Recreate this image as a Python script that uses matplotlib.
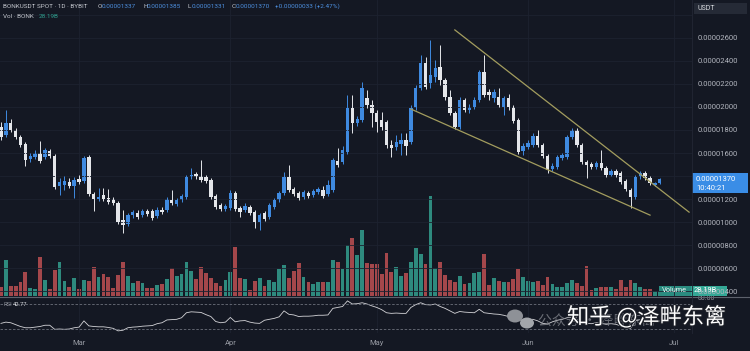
import matplotlib
matplotlib.use('Agg')
import matplotlib.pyplot as plt
import matplotlib.dates as mdates
import matplotlib.patheffects as pe
from matplotlib.patches import Rectangle, Ellipse
from matplotlib.lines import Line2D
import numpy as np
import pandas as pd

# daily BONKUSDT candles, prices in units of 1e-6 USDT
first_day = '2025-02-13'
opens = [18.26, 17.57, 18.61, 18.00, 17.39, 16.78, 15.48, 15.65, 16.00, 15.65,
         16.17, 15.74, 13.13, 13.22, 13.48, 13.13, 13.74, 13.57, 15.65, 12.43,
         12.00, 12.35, 12.09, 12.00, 11.65, 10.17, 9.83, 10.61, 10.78, 10.61,
         10.96, 10.96, 10.52, 11.04, 11.04, 11.91, 11.57, 11.91, 12.17, 13.91,
         14.17, 14.00, 13.91, 13.65, 12.26, 11.48, 11.13, 11.22, 12.52, 11.22,
         11.04, 11.30, 10.87, 10.00, 10.78, 10.43, 11.30, 11.91, 12.52, 13.91,
         12.87, 12.52, 12.17, 12.52, 12.35, 12.61, 12.78, 12.43, 12.78, 15.30,
         15.22, 16.09, 19.91, 18.61, 18.87, 20.78, 20.17, 19.48, 18.87, 18.70,
         16.70, 16.52, 16.78, 17.13, 16.96, 19.91, 21.65, 23.83, 22.09, 22.61,
         23.48, 22.35, 20.87, 19.48, 18.26, 20.61, 19.74, 20.00, 20.61, 23.04,
         21.30, 20.78, 20.87, 20.00, 20.78, 20.00, 18.87, 16.17, 16.52, 16.70,
         17.48, 16.70, 15.74, 14.61, 14.78, 15.57, 15.65, 17.39, 18.00, 16.70,
         15.22, 15.04, 14.78, 15.13, 14.70, 14.09, 14.43, 14.26, 13.57, 12.78,
         12.17, 13.91, 14.26, 13.83, 13.20, 13.37]
highs = [18.70, 19.74, 18.96, 18.17, 17.57, 16.96, 16.00, 16.26, 17.04, 16.43,
         16.35, 15.91, 13.83, 14.00, 13.83, 13.91, 14.09, 15.74, 15.83, 12.61,
         12.96, 12.96, 12.87, 12.17, 11.83, 11.04, 10.78, 11.04, 11.04, 11.13,
         11.13, 11.13, 11.30, 11.30, 12.17, 12.78, 12.09, 12.43, 14.09, 14.70,
         14.35, 15.39, 14.09, 13.83, 12.43, 11.65, 11.57, 12.78, 12.70, 11.39,
         11.65, 11.48, 11.04, 10.78, 10.96, 11.65, 12.09, 12.70, 14.35, 14.96,
         13.04, 12.70, 12.78, 12.70, 12.87, 13.04, 13.13, 13.65, 15.57, 16.43,
         16.61, 21.04, 21.04, 19.22, 22.17, 21.48, 20.61, 19.74, 19.57, 18.87,
         17.13, 17.57, 17.74, 17.74, 20.17, 21.91, 24.52, 24.35, 25.83, 24.09,
         25.39, 22.52, 21.48, 19.65, 20.87, 20.78, 20.26, 20.87, 23.22, 24.52,
         21.57, 21.57, 21.65, 20.96, 21.13, 20.17, 19.04, 16.87, 17.13, 17.74,
         18.00, 16.87, 15.91, 15.13, 15.83, 16.00, 17.57, 18.17, 18.17, 16.87,
         15.39, 15.22, 15.30, 16.26, 14.87, 14.61, 14.61, 14.43, 13.74, 12.96,
         14.09, 14.43, 14.43, 14.00, 13.50, 13.85]
lows = [17.13, 17.39, 17.83, 17.22, 16.52, 14.87, 15.22, 15.48, 15.13, 15.48,
        15.57, 12.87, 12.35, 12.78, 12.96, 12.09, 13.30, 13.39, 12.26, 10.96,
        11.83, 11.83, 11.57, 11.48, 9.83, 9.04, 9.65, 10.35, 10.26, 10.43,
        10.52, 10.17, 10.35, 10.70, 10.87, 11.48, 11.39, 11.74, 12.00, 13.74,
        13.74, 13.48, 13.39, 12.00, 11.13, 10.96, 10.96, 11.04, 10.96, 10.43,
        10.87, 10.61, 9.48, 9.30, 10.09, 10.26, 11.13, 11.74, 12.35, 12.61,
        12.26, 11.91, 12.00, 12.09, 12.17, 12.43, 12.09, 12.26, 12.61, 14.78,
        15.04, 15.91, 17.74, 18.35, 18.70, 19.91, 18.26, 17.83, 18.00, 16.43,
        15.65, 16.26, 15.83, 15.83, 16.78, 19.74, 21.48, 21.57, 21.65, 22.17,
        21.91, 20.61, 19.30, 18.09, 18.09, 19.57, 19.48, 19.83, 20.43, 20.87,
        20.61, 20.43, 20.00, 19.30, 19.74, 18.61, 15.91, 15.83, 16.35, 16.52,
        16.52, 15.57, 14.26, 14.43, 14.61, 15.39, 15.48, 17.22, 16.52, 15.04,
        13.83, 14.61, 14.61, 14.52, 13.91, 14.00, 13.91, 13.30, 12.70, 11.22,
        12.00, 13.74, 13.65, 13.22, 13.10, 13.31]
closes = [17.39, 18.61, 18.00, 17.39, 16.70, 15.39, 15.74, 16.00, 15.30, 16.26,
          15.74, 13.04, 13.48, 13.57, 13.13, 13.65, 13.48, 15.57, 12.43, 12.00,
          12.17, 12.00, 11.74, 11.65, 10.00, 9.74, 10.61, 10.87, 10.43, 10.96,
          10.70, 10.35, 11.04, 10.87, 12.00, 11.65, 11.91, 12.26, 13.91, 14.09,
          13.91, 13.65, 13.57, 12.17, 11.30, 11.13, 11.39, 12.52, 11.13, 10.87,
          11.39, 10.78, 10.00, 10.61, 10.26, 11.48, 11.91, 12.52, 13.91, 12.78,
          12.43, 12.09, 12.61, 12.26, 12.70, 12.87, 12.26, 13.22, 15.39, 14.96,
          16.26, 19.91, 18.61, 18.96, 21.65, 20.17, 19.48, 18.70, 18.26, 16.70,
          16.43, 16.96, 17.13, 16.61, 19.91, 21.65, 23.83, 21.74, 22.78, 23.39,
          22.35, 20.87, 19.48, 18.26, 20.61, 19.74, 20.00, 20.61, 23.04, 21.04,
          21.04, 21.30, 20.17, 20.78, 20.00, 18.78, 16.09, 16.61, 16.87, 17.48,
          16.70, 15.74, 14.52, 14.87, 15.65, 15.83, 17.39, 18.00, 16.70, 15.22,
          14.96, 14.78, 15.13, 14.70, 14.09, 14.43, 14.09, 13.48, 12.87, 12.17,
          13.91, 14.26, 13.83, 13.39, 13.37, 13.70]
# volume in billions of BONK
volumes = [50, 198, 55, 55, 77, 132, 44, 39, 215, 88,
           39, 143, 187, 83, 50, 99, 39, 88, 83, 160,
           105, 121, 105, 44, 116, 187, 110, 72, 83, 72,
           44, 44, 61, 66, 94, 154, 110, 121, 187, 138,
           94, 160, 127, 99, 72, 55, 88, 132, 270, 99,
           94, 33, 83, 99, 55, 88, 77, 149, 171, 99,
           138, 182, 105, 77, 66, 77, 77, 77, 198, 187,
           149, 281, 319, 226, 363, 182, 176, 176, 121, 237,
           132, 160, 110, 127, 187, 264, 231, 176, 550, 154,
           187, 116, 88, 77, 110, 66, 72, 127, 132, 231,
           61, 99, 83, 77, 77, 94, 149, 105, 83, 77,
           83, 61, 105, 66, 50, 50, 72, 88, 72, 55,
           165, 33, 44, 50, 50, 50, 39, 88, 50, 88,
           72, 50, 39, 39, 28, 28.19]
rsi = [39, 41, 40, 37, 34, 32, 32, 33, 34, 36,
       36, 29.5, 30, 29.5, 30, 32, 33, 43, 35, 34,
       33.5, 33.5, 32.5, 31, 27, 28, 32, 33, 33.5, 34.5,
       35, 35.5, 38.5, 40, 44.5, 45, 45.5, 48, 56, 57.5,
       57, 56.5, 53, 50, 42, 40, 41, 48.5, 41.5, 43,
       43.5, 41, 39.5, 39, 44, 45.5, 47, 49.5, 59, 53.5,
       52.5, 50, 50.5, 50.5, 51, 52, 52, 52.5, 63, 64.5,
       66, 75, 70, 70.5, 72, 70, 67, 64.5, 61, 56,
       55, 55.5, 55, 55, 64.5, 69, 72, 69, 68.5, 70,
       66, 63, 59, 55, 58, 57, 56.5, 56, 61.5, 56,
       55, 54, 53.5, 52, 50, 48, 44, 44.5, 45, 45.5,
       43, 39, 38, 41.5, 44, 45.5, 48, 49, 45, 41,
       39, 38.5, 40, 39, 37.5, 38.5, 37.5, 35, 33, 31,
       43, 45, 43.5, 41.5, 42, 42.77]

price_ticks = [4, 6, 8, 10, 12, 14, 16, 18, 20, 22, 24, 26, 28]
hidden_ticks = [14, 28]   # covered by the price tag / the USDT box
month_ticks = ['2025-03-01', '2025-04-01', '2025-05-01', '2025-06-01', '2025-07-01']
month_labels = ['Mar', 'Apr', 'May', 'Jun', 'Jul']
upper_trend = (['2025-05-17', '2025-07-04'], [26.70, 10.86])
lower_trend = (['2025-05-08', '2025-06-26'], [19.82, 10.60])

bg = '#141823'
grid_c = '#1d2230'
txt_c = '#b2b5be'
up_c = '#3f8ae0'
dn_c = '#e4e6ea'
W, H = 750, 351


def frame(x0, y0, x1, y1):
    return [x0 / W, 1 - y1 / H, (x1 - x0) / W, (y1 - y0) / H]


dates = pd.date_range(first_day, periods=len(closes), freq='D')
x = mdates.date2num(dates)
o = np.array(opens)
h = np.array(highs)
l = np.array(lows)
c = np.array(closes)
up = c >= o
body_col = np.where(up, up_c, dn_c)
vol_col = np.where(up, '#2e8a7e', '#a4474b')
mx = mdates.date2num(pd.to_datetime(month_ticks))

fig = plt.figure(figsize=(7.5, 3.51), dpi=100, facecolor=bg)
ax = fig.add_axes(frame(0, 0, 692, 296))
ax_rsi = fig.add_axes(frame(0, 297, 692, 333), sharex=ax)

# volume underneath
axv = ax.twinx()
axv.set_zorder(1)
ax.set_zorder(2)
ax.patch.set_visible(False)
axv.patch.set_facecolor(bg)
axv.bar(x, volumes, width=0.78, color=vol_col, linewidth=0)
axv.set_ylim(0, 1628)
axv.set_yticks([])
for s in axv.spines.values():
    s.set_visible(False)

ax.vlines(x, l, h, colors=body_col, linewidth=0.7)
ax.bar(x, np.maximum(np.abs(c - o), 0.06), bottom=np.minimum(o, c), width=0.7,
       color=body_col, linewidth=0)

for td, tp in (upper_trend, lower_trend):
    ax.plot(mdates.date2num(pd.to_datetime(td)), tp, color='#a39d5e', lw=0.9)

x0 = mdates.date2num(pd.Timestamp(first_day))
ax.set_xlim(x0 - 0.2, x0 + 141.6)
ax.set_ylim(3.57, 29.30)
ax.set_xticks(mx)
ax.set_yticks(price_ticks)
ax.yaxis.tick_right()
ax.set_yticklabels(['' if t in hidden_ticks else f'{t / 1e6:.8f}' for t in price_ticks])
ax.tick_params(axis='y', length=0, pad=4, labelsize=5.5, labelcolor=txt_c)
ax.tick_params(axis='x', length=0, labelbottom=False)
for lab in ax.get_yticklabels():
    lab.set_fontfamily('Roboto')
ax.grid(True, color=grid_c, lw=0.6)
for s in ax.spines.values():
    s.set_visible(False)

# RSI pane
ax_rsi.set_facecolor(bg)
ax_rsi.plot(x, rsi, color='#d4d4d8', lw=0.6)
for lvl in (70, 30):
    ax_rsi.axhline(lvl, color='#6c707b', lw=0.6, dashes=(3, 2))
ax_rsi.set_ylim(23.6, 81.2)
ax_rsi.set_yticks([80])
ax_rsi.yaxis.tick_right()
ax_rsi.set_yticklabels(['80.00'])
ax_rsi.tick_params(axis='y', length=0, pad=4, labelsize=5, labelcolor='#8d909a')
ax_rsi.set_xticks(mx)
ax_rsi.set_xticklabels(month_labels)
ax_rsi.tick_params(axis='x', length=0, pad=5, labelsize=5.5, labelcolor='#9598a1')
for lab in ax_rsi.get_xticklabels() + ax_rsi.get_yticklabels():
    lab.set_fontfamily('Roboto')
ax_rsi.grid(True, axis='x', color=grid_c, lw=0.6)
for s in ax_rsi.spines.values():
    s.set_visible(False)

# pane separators
fig.add_artist(Line2D([0, 1], [1 - 296.5 / H] * 2, color='#5d616c', lw=0.8))
fig.add_artist(Line2D([692 / W] * 2, [1 - 333 / H, 1], color='#232734', lw=0.6))


def ftext(px, py, s, size, color, **kw):
    kw.setdefault('family', 'Roboto')
    fig.text(px / W, 1 - py / H, s, fontsize=size, color=color, va='center', **kw)


def fbox(x0, y0, x1, y1, color):
    fig.add_artist(Rectangle((x0 / W, 1 - y1 / H), (x1 - x0) / W, (y1 - y0) / H,
                             transform=fig.transFigure, color=color, lw=0))


# header
hc = '#c3c6cd'
vc = '#4d90e0'
ftext(3, 6, 'BONKUSDT SPOT · 1D · BYBIT', 4.6, hc)
ftext(98, 6, 'O', 4.6, hc)
ftext(102, 6, '0.00001337', 4.6, vc)
ftext(143, 6, 'H', 4.6, hc)
ftext(147, 6, '0.00001385', 4.6, vc)
ftext(188, 6, 'L', 4.6, hc)
ftext(192, 6, '0.00001331', 4.6, vc)
ftext(232, 6, 'C', 4.6, hc)
ftext(236, 6, '0.00001370', 4.6, vc)
ftext(275, 6, '+0.00000033 (+2.47%)', 4.6, vc)
ftext(3, 17, 'Vol · BONK', 4.6, hc)
ftext(39, 17, '28.19B', 4.6, '#2fa08f')
ftext(3, 304, 'RSI', 4.2, '#8d909a')
ftext(13, 304, '42.77', 4.2, '#d8dade')

# price scale boxes
fbox(694, 3, 747, 14, '#252a36')
ftext(697, 8.5, 'USDT', 5, '#d8dade')
fbox(692, 173, 748, 193, '#3a8de6')
ftext(696, 179, '0.00001370', 5.5, 'white')
ftext(696, 188, '10:40:21', 5.5, 'white')
fbox(659, 286, 691, 296, '#2a8c80')
ftext(662, 291, 'Volume', 5.3, '#e6f2f0')
fbox(691, 286, 727, 296, '#34a896')
ftext(694, 291, '28.19B', 5.3, 'white')

# watermark
fig.add_artist(Ellipse((515 / W, 1 - 316 / H), 16 / W, 13 / H, transform=fig.transFigure,
                       color='#8e9197', lw=0))
fig.add_artist(Ellipse((527 / W, 1 - 323 / H), 14 / W, 11 / H, transform=fig.transFigure,
                       color='#a3a6ab', lw=0))
ftext(538, 321, '公众号 · 泽畔东篱', 10, '#80838a', family=['Noto Sans CJK SC', 'DejaVu Sans'],
      alpha=0.8)
fig.text(567 / W, 1 - 317 / H, '知乎 @泽畔东篱', fontsize=16, color='white', va='center',
         family=['Noto Sans CJK SC', 'DejaVu Sans'],
         path_effects=[pe.withStroke(linewidth=1.5, foreground='#20232b')])

fig.savefig('out.png', dpi=100, facecolor=bg)
